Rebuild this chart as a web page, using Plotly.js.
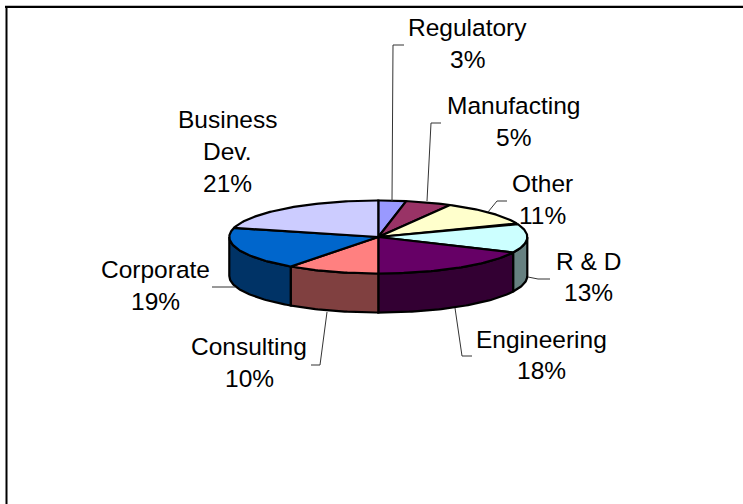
<!DOCTYPE html>
<html><head><meta charset="utf-8">
<script src="https://cdn.plot.ly/plotly-3.0.1.min.js"></script>
<style>html,body{margin:0;padding:0;background:#fff}#c{width:743px;height:504px}</style>
</head><body><div id="c"></div>
<script>
var categories = ["Regulatory","Manufacting","Other","R & D","Engineering","Consulting","Corporate","Business Dev."];
var percents = [3,5,11,13,18,10,19,21];
var topColors = ["#9999FF","#993366","#FFFFCC","#CCFFFF","#660066","#FF8080","#0066CC","#CCCCFF"];
var sideColors = ["#4D4D80","#4D1A33","#808066","#668080","#330033","#804040","#003366","#666680"];

var cx=378.3, cy=237, rx=149, ry=36.5, depth=39;
function px(t){return cx+rx*Math.sin(t*Math.PI/180);}
function py(t){return cy-ry*Math.cos(t*Math.PI/180);}
var traces=[];
var edge={color:"#000",width:2.2};
var a=0, bounds=[];
percents.forEach(function(p){bounds.push([a,a+p*3.6]);a+=p*3.6;});

// side walls (front half only)
bounds.forEach(function(b,i){
  var s=Math.max(b[0],90), e=Math.min(b[1],270);
  if(e<=s) return;
  var xs=[],ys=[],t;
  for(t=s;t<e;t+=1){xs.push(px(t));ys.push(py(t));}
  xs.push(px(e));ys.push(py(e));
  for(t=e;t>s;t-=1){xs.push(px(t));ys.push(py(t)+depth);}
  xs.push(px(s));ys.push(py(s)+depth);
  xs.push(xs[0]);ys.push(ys[0]);
  traces.push({x:xs,y:ys,mode:"lines",fill:"toself",fillcolor:sideColors[i],line:edge,hoverinfo:"skip"});
});
// top faces
bounds.forEach(function(b,i){
  var xs=[cx],ys=[cy],t;
  for(t=b[0];t<b[1];t+=1){xs.push(px(t));ys.push(py(t));}
  xs.push(px(b[1]));ys.push(py(b[1]));
  xs.push(cx);ys.push(cy);
  traces.push({x:xs,y:ys,mode:"lines",fill:"toself",fillcolor:topColors[i],line:edge,hoverinfo:"text",text:categories[i]});
});
// leader lines
var leaders=[
 [[392,393,404],[201,45,45]],
 [[427,431,441],[201,123,123]],
 [[488,497,507],[212,201,201]],
 [[528,538,550],[277,279,279]],
 [[455,462,472],[308,356,356]],
 [[327,320,311],[312,365,365]],
 [[235,212],[287,287]]
];
leaders.forEach(function(l){
  traces.push({x:l[0],y:l[1],mode:"lines",line:{color:"#333",width:1},hoverinfo:"skip"});
});
// labels
var labelLines=[
 ["Regulatory",467,27],["3%",467,59],
 ["Manufacting",513,105],["5%",513,137],
 ["Other",542,183],["11%",542,215],
 ["R &amp; D",588,261],["13%",588,292],
 ["Engineering",541,339],["18%",541,370],
 ["Consulting",249,346],["10%",249,378],
 ["Corporate",155,269],["19%",155,301],
 ["Business",227,119],["Dev.",227,151],["21%",227,183]
];
var annotations=labelLines.map(function(l){
  return {x:l[1],y:l[2],xref:"x",yref:"y",text:l[0],showarrow:false,xanchor:"center",yanchor:"middle",
    font:{family:"Liberation Sans, Arial, sans-serif",size:24.5,color:"#000"}};
});
Plotly.newPlot("c",traces,{
  width:743,height:504,margin:{l:0,r:0,t:0,b:0},showlegend:false,
  paper_bgcolor:"#fff",plot_bgcolor:"#fff",
  xaxis:{range:[0,743],visible:false,fixedrange:true},
  yaxis:{range:[504,0],visible:false,fixedrange:true},
  annotations:annotations,
  shapes:[
   {type:"line",xref:"x",yref:"y",x0:6.5,x1:6.5,y0:6,y1:504,line:{color:"#000",width:2}},
   {type:"line",xref:"x",yref:"y",x0:5,x1:743,y0:6.8,y1:6.8,line:{color:"#000",width:2.2}}
  ]
},{displayModeBar:false});
</script></body></html>
